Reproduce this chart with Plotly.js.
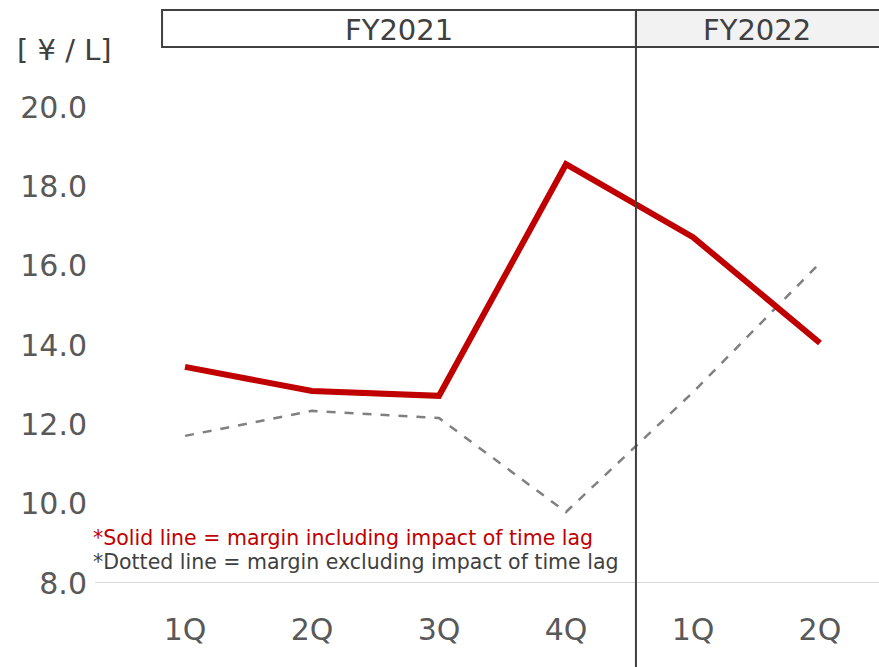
<!DOCTYPE html>
<html>
<head>
<meta charset="utf-8">
<script src="https://cdn.plot.ly/plotly-3.0.1.min.js"></script>
<style>html,body{margin:0;padding:0;background:#fff;}#chart{width:879px;height:667px;}</style>
</head>
<body>
<div id="chart"></div>
<script>
var quarters = ["1Q", "2Q", "3Q", "4Q", "1Q", "2Q"];
var xIndex = [0, 1, 2, 3, 4, 5];
var marginIncl = [13.45, 12.84, 12.72, 18.56, 16.72, 14.05];
var marginExcl = [11.71, 12.34, 12.16, 9.79, 12.81, 16.07];
var yTicks = [8, 10, 12, 14, 16, 18, 20];
var yTickText = ["8.0", "10.0", "12.0", "14.0", "16.0", "18.0", "20.0"];
var fyLabels = ["FY2021", "FY2022"];
var noteSolid = "*Solid line = margin including impact of time lag";
var noteDotted = "*Dotted line = margin excluding impact of time lag";
var unitLabel = "[ ¥ / L]";

var FONT = "DejaVu Sans, Verdana, sans-serif";

var traces = [
  {x: xIndex, y: marginExcl, type: "scatter", mode: "lines",
   line: {color: "#808080", width: 2.5, dash: "dash"}, hoverinfo: "skip", cliponaxis: false},
  {x: xIndex, y: marginIncl, type: "scatter", mode: "lines",
   line: {color: "#C00000", width: 6}, hoverinfo: "skip", cliponaxis: false}
];

var layout = {
  width: 879, height: 667,
  margin: {l: 95, r: 0, t: 0, b: 84},
  paper_bgcolor: "#fff", plot_bgcolor: "rgba(0,0,0,0)",
  showlegend: false,
  font: {family: FONT, color: "#595959"},
  xaxis: {
    range: [-0.709, 5.465], tickvals: xIndex, ticktext: quarters,
    showgrid: false, zeroline: false, showline: false, ticks: "",
    tickfont: {size: 30, color: "#595959", family: FONT}, ticklabelstandoff: 26
  },
  yaxis: {
    range: [8, 22.70], tickvals: yTicks, ticktext: yTickText,
    showgrid: false, zeroline: false, showline: false, ticks: "",
    tickfont: {size: 30, color: "#595959", family: FONT}, ticklabelstandoff: 7
  },
  shapes: [
    {type: "line", xref: "paper", yref: "y", x0: 0, x1: 1, y0: 8, y1: 8,
     line: {color: "#d9d9d9", width: 2}, layer: "below"},
    {type: "rect", xref: "x", yref: "paper", x0: 3.551, x1: 5.48, y0: 1 - 10/583, y1: 1 - 47/583,
     fillcolor: "#f2f2f2", line: {color: "#404040", width: 2}},
    {type: "rect", xref: "x", yref: "paper", x0: -0.181, x1: 3.551, y0: 1 - 10/583, y1: 1 - 47/583,
     fillcolor: "#ffffff", line: {color: "#404040", width: 2}},
    {type: "line", xref: "x", yref: "paper", x0: 3.551, x1: 3.551, y0: 1 - 10/583, y1: -84/583,
     line: {color: "#404040", width: 2}}
  ],
  annotations: [
    {xref: "x", yref: "paper", x: (-0.181 + 3.551) / 2, y: 1 - 30/583, text: fyLabels[0],
     showarrow: false, font: {size: 29, color: "#404040", family: FONT}, xanchor: "center", yanchor: "middle"},
    {xref: "x", yref: "paper", x: (3.551 + 5.465) / 2, y: 1 - 30/583, text: fyLabels[1],
     showarrow: false, font: {size: 29, color: "#404040", family: FONT}, xanchor: "center", yanchor: "middle"},
    {xref: "paper", yref: "paper", x: -95/784 + 15/784, y: 1 - 50/583, text: unitLabel,
     showarrow: false, font: {size: 29, color: "#404040", family: FONT}, xanchor: "left", yanchor: "middle"},
    {xref: "paper", yref: "paper", x: -4/784, y: 1 - 538/583, text: noteSolid,
     showarrow: false, font: {size: 20.5, color: "#C00000", family: FONT}, xanchor: "left", yanchor: "middle"},
    {xref: "paper", yref: "paper", x: -4/784, y: 1 - 562/583, text: noteDotted,
     showarrow: false, font: {size: 20.5, color: "#404040", family: FONT}, xanchor: "left", yanchor: "middle"}
  ]
};

Plotly.newPlot("chart", traces, layout, {staticPlot: true, displayModeBar: false});
</script>
</body>
</html>
